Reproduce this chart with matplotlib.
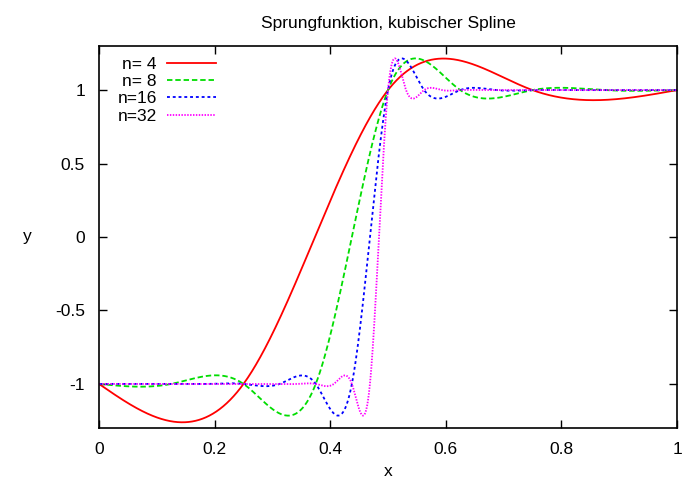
import numpy as np
import matplotlib
matplotlib.use("Agg")
import matplotlib.pyplot as plt

# Interpolation nodes: step function sampled at n+1 equidistant points on [0, 1]
n_values = [4, 8, 16, 32]
labels = ["n= 4", "n= 8", "n=16", "n=32"]
step_low = -1.0
step_high = 1.0
step_at = 0.5

colors = ["#ff0000", "#00dd00", "#0000ff", "#ff00ff"]
dashes = [None, (3.0, 1.6), (1.6, 1.6), (0.8, 0.8)]

x_ticks = [0, 0.2, 0.4, 0.6, 0.8, 1]
x_ticklabels = ["0", "0.2", "0.4", "0.6", "0.8", "1"]
y_ticks = [-1, -0.5, 0, 0.5, 1]
y_ticklabels = ["-1", "-0.5", "0", "0.5", "1"]


def natural_spline(xk, yk, xs):
    n = len(xk) - 1
    h = np.diff(xk)
    A = np.zeros((n + 1, n + 1))
    b = np.zeros(n + 1)
    A[0, 0] = 1.0
    A[n, n] = 1.0
    for i in range(1, n):
        A[i, i - 1] = h[i - 1]
        A[i, i] = 2 * (h[i - 1] + h[i])
        A[i, i + 1] = h[i]
        b[i] = 6 * ((yk[i + 1] - yk[i]) / h[i] - (yk[i] - yk[i - 1]) / h[i - 1])
    M = np.linalg.solve(A, b)
    idx = np.clip(np.searchsorted(xk, xs) - 1, 0, n - 1)
    x0 = xk[idx]; x1 = xk[idx + 1]; hh = h[idx]
    t0 = x1 - xs; t1 = xs - x0
    return (M[idx] * t0 ** 3 / (6 * hh) + M[idx + 1] * t1 ** 3 / (6 * hh)
            + (yk[idx] / hh - M[idx] * hh / 6) * t0
            + (yk[idx + 1] / hh - M[idx + 1] * hh / 6) * t1)


plt.rcParams["font.family"] = ["Liberation Sans", "DejaVu Sans"]
fs = 12.5
fig = plt.figure(figsize=(6.82, 4.79), dpi=100)
ax = fig.add_axes([99 / 682, 1 - 428 / 479, 578 / 682, 382 / 479])

xs = np.linspace(0, 1, 2001)
for n, lab, c, d in zip(n_values, labels, colors, dashes):
    xk = np.linspace(0, 1, n + 1)
    yk = np.where(xk < step_at, step_low, step_high)
    ys = natural_spline(xk, yk, xs)
    line, = ax.plot(xs, ys, color=c, lw=1.3, label=lab)
    if d is not None:
        line.set_dashes(d)

ax.set_xlim(0, 1)
ax.set_ylim(-1.3, 1.3)
ax.set_xticks(x_ticks)
ax.set_xticklabels(x_ticklabels)
ax.set_yticks(y_ticks)
ax.set_yticklabels(y_ticklabels)
ax.tick_params(direction="in", length=6, width=1, top=True, right=True,
               labelsize=fs, pad=10)
for s in ax.spines.values():
    s.set_linewidth(1.2)

ax.set_title("Sprungfunktion, kubischer Spline", fontsize=fs, pad=13)
ax.set_xlabel("x", fontsize=fs, labelpad=5)
ax.set_ylabel("y", fontsize=fs, rotation=0, labelpad=20, va="center")

leg = ax.legend(loc="upper left", bbox_to_anchor=(0.02, 0.99), frameon=False,
                markerfirst=False, fontsize=fs, handlelength=2.8,
                handletextpad=0.6, labelspacing=0.12, borderaxespad=0)
for t in leg.get_texts():
    t.set_ha("right")

fig.savefig("out.png", dpi=100)
